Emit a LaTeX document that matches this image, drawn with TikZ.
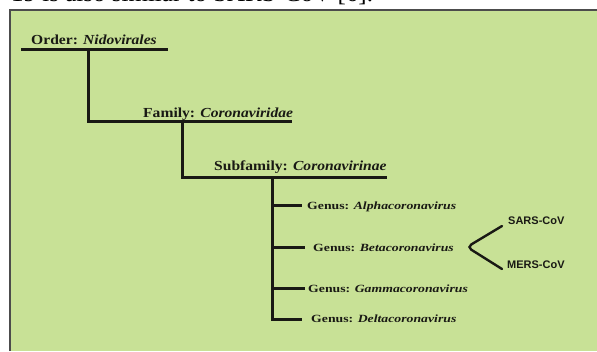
\documentclass[tikz,border=0pt]{standalone}
\usepackage{fontspec}
\setmainfont{Liberation Serif}
\newfontfamily\sansb{Liberation Sans}
\newfontfamily\rankfont{Liberation Serif}[FakeStretch=1.13]
\newfontfamily\genusfont{Liberation Serif}[FakeStretch=1.25]
\definecolor{bg}{RGB}{200,225,150}
\definecolor{ink}{RGB}{25,25,20}
\tikzset{
  rank/.style={anchor=base west, inner sep=0pt, text=ink, font=\rankfont\fontsize{13.8}{14}\selectfont\bfseries},
  genus/.style={anchor=base west, inner sep=0pt, text=ink, font=\genusfont\fontsize{11}{12}\selectfont\bfseries},
  virus/.style={anchor=west, inner sep=0pt, text=ink, font=\sansb\fontsize{11}{12}\selectfont\bfseries},
  branch/.style={line width=3pt, draw=ink},
  split/.style={line width=2.4pt, draw=ink, rounded corners=5pt, line cap=round}
}
\begin{document}
\begin{tikzpicture}[x=1pt,y=-1pt]
\useasboundingbox (0,0) rectangle (597,351);
\begin{scope}
  \clip (0,0) rectangle (597,351);
  \node[anchor=base west, inner sep=0pt, font=\fontsize{25}{26}\selectfont] (cap) at (11,1.5) {19 is also similar to SARS-CoV [6].};
\end{scope}
\fill[bg] (10,10) rectangle (597,351);
\draw[line width=2pt, draw=black!70] (10,351) -- (10,10) -- (597,10);

% rank labels
\node[rank] (order) at (31,44.5) {Order: \textit{Nidovirales}};
\node[rank] (family) at (143,117) {Family: \textit{Coronaviridae}};
\node[rank] (subfam) at (214,170) {Subfamily: \textit{Coronavirinae}};

% genus labels
\node[genus] (alpha) at (307,209) {Genus: \textit{Alphacoronavirus}};
\node[genus] (beta) at (313,251) {Genus: \textit{Betacoronavirus}};
\node[genus] (gamma) at (308,292) {Genus: \textit{Gammacoronavirus}};
\node[genus] (delta) at (311,322.5) {Genus: \textit{Deltacoronavirus}};

% species
\node[virus] (sars) at (508,221) {SARS-CoV};
\node[virus] (mers) at (507,265) {MERS-CoV};

% tree coordinates
\coordinate (o1) at (21,49);
\coordinate (o2) at (168,49);
\coordinate (oj) at (88,49);
\coordinate (f1) at (88,121);
\coordinate (f2) at (292,121);
\coordinate (fj) at (182,121);
\coordinate (s1) at (182,177);
\coordinate (s2) at (387,177);
\coordinate (sj) at (272,177);
\coordinate (ga) at (272,205);
\coordinate (gb) at (272,247);
\coordinate (gg) at (272,288);
\coordinate (gd) at (272,319);
\coordinate (ea) at (302,205);
\coordinate (eb) at (305,247);
\coordinate (eg) at (305,288);
\coordinate (ed) at (302,319);
\coordinate (v) at (467,247);
\coordinate (vs) at (502,226);
\coordinate (vm) at (502,269);

\draw[branch] (o1) -- (o2);
\draw[branch] (oj) -- (f1) -- (f2);
\draw[branch] (fj) -- (s1) -- (s2);
\draw[branch] (sj) -- (gd) -- (ed);
\draw[branch] (ga) -- (ea);
\draw[branch] (gb) -- (eb);
\draw[branch] (gg) -- (eg);
\draw[split] (vs) -- (v) -- (vm);
\end{tikzpicture}
\end{document}
